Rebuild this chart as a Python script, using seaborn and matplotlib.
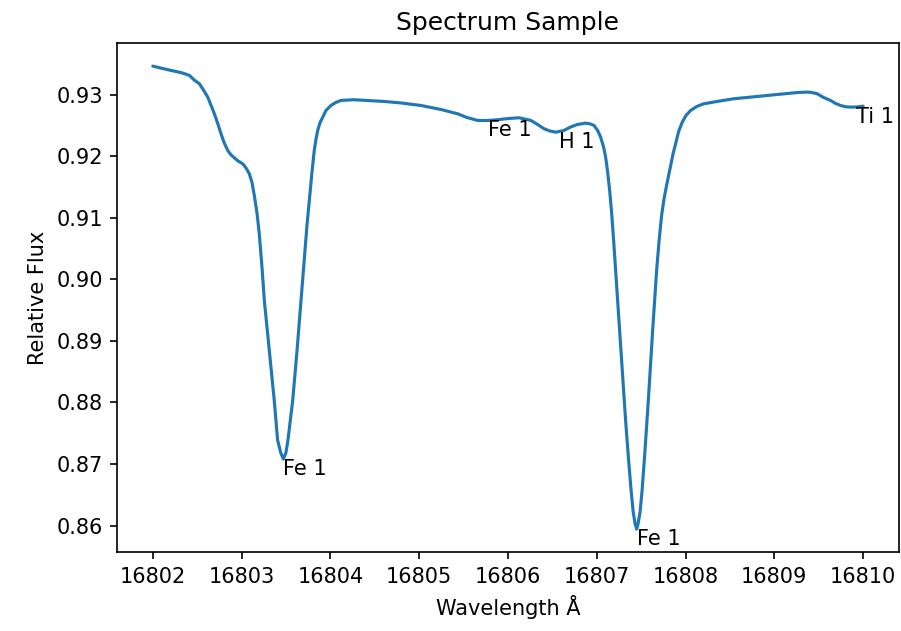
import matplotlib
matplotlib.use("Agg")
import matplotlib.pyplot as plt
import seaborn as sns
import pandas as pd

wavelength = [
    16802.000, 16802.105, 16802.243, 16802.330, 16802.412, 16802.465, 16802.524,
    16802.566, 16802.619, 16802.656, 16802.693, 16802.731, 16802.768, 16802.802,
    16802.844, 16802.881, 16802.918, 16802.960, 16803.013, 16803.050, 16803.087,
    16803.117, 16803.143, 16803.174, 16803.199, 16803.228, 16803.256, 16803.312,
    16803.368, 16803.405, 16803.441, 16803.470, 16803.499, 16803.522, 16803.575,
    16803.624, 16803.669, 16803.691, 16803.714, 16803.736, 16803.762, 16803.792,
    16803.818, 16803.837, 16803.857, 16803.882, 16803.913, 16803.950, 16804.006,
    16804.062, 16804.119, 16804.268, 16804.606, 16804.795, 16805.019, 16805.244,
    16805.432, 16805.537, 16805.657, 16805.773, 16805.882, 16806.009, 16806.125,
    16806.257, 16806.324, 16806.406, 16806.470, 16806.538, 16806.631, 16806.706,
    16806.782, 16806.875, 16806.926, 16806.969, 16807.010, 16807.044, 16807.078,
    16807.100, 16807.123, 16807.145, 16807.168, 16807.190, 16807.235, 16807.280,
    16807.325, 16807.359, 16807.387, 16807.410, 16807.432, 16807.449, 16807.465,
    16807.488, 16807.510, 16807.539, 16807.562, 16807.584, 16807.606, 16807.629,
    16807.651, 16807.674, 16807.702, 16807.730, 16807.758, 16807.786, 16807.809,
    16807.832, 16807.860, 16807.888, 16807.922, 16807.963, 16808.005, 16808.057,
    16808.127, 16808.206, 16808.392, 16808.544, 16808.920, 16809.182, 16809.272,
    16809.370, 16809.418, 16809.482, 16809.554, 16809.632, 16809.689, 16809.745,
    16809.802, 16809.857, 16809.926, 16810.000,
]
flux = [
    0.93463, 0.93426, 0.93382, 0.93353, 0.93312, 0.93239, 0.93177,
    0.93085, 0.92959, 0.92824, 0.92689, 0.92532, 0.92364, 0.92223,
    0.92093, 0.92020, 0.91974, 0.91922, 0.91876, 0.91808, 0.91714,
    0.91572, 0.91361, 0.91068, 0.90738, 0.90223, 0.89654, 0.88841,
    0.88028, 0.87390, 0.87182, 0.87080, 0.87182, 0.87390, 0.88028,
    0.88841, 0.89654, 0.90060, 0.90467, 0.90873, 0.91280, 0.91735,
    0.92093, 0.92272, 0.92418, 0.92540, 0.92634, 0.92743, 0.92824,
    0.92873, 0.92906, 0.92917, 0.92889, 0.92865, 0.92824, 0.92759,
    0.92689, 0.92629, 0.92581, 0.92580, 0.92592, 0.92613, 0.92624,
    0.92581, 0.92524, 0.92446, 0.92410, 0.92390, 0.92418, 0.92475,
    0.92515, 0.92537, 0.92524, 0.92499, 0.92418, 0.92309, 0.92141,
    0.91984, 0.91735, 0.91442, 0.91068, 0.90629, 0.89654, 0.88678,
    0.87702, 0.87052, 0.86564, 0.86224, 0.86028, 0.85942, 0.86028,
    0.86224, 0.86564, 0.87133, 0.87621, 0.88109, 0.88629, 0.89166,
    0.89654, 0.90142, 0.90629, 0.91036, 0.91312, 0.91524, 0.91686,
    0.91849, 0.92044, 0.92202, 0.92402, 0.92553, 0.92662, 0.92743,
    0.92808, 0.92852, 0.92898, 0.92933, 0.92987, 0.93024, 0.93036,
    0.93041, 0.93036, 0.93015, 0.92954, 0.92906, 0.92857, 0.92824,
    0.92803, 0.92797, 0.92800, 0.92813,
]

label_names = ["Fe 1", "Fe 1", "H 1", "Fe 1", "Ti 1"]
label_wl = [16803.47, 16805.77, 16806.57, 16807.45, 16809.92]
label_flux = [0.8708, 0.9259, 0.9240, 0.8594, 0.9280]

df = pd.DataFrame({"Wavelength": wavelength, "Flux": flux})

fig = plt.figure(figsize=(901 / 150, 631 / 150), dpi=150)
ax = fig.add_axes([0.1302, 0.1247, 0.8672, 0.8072])

sns.lineplot(data=df, x="Wavelength", y="Flux", ax=ax, color="#1f77b4",
             linewidth=1.5, solid_joinstyle="round", solid_capstyle="round")

for name, w, f in zip(label_names, label_wl, label_flux):
    ax.text(w, f, name, ha="left", va="top", fontsize=10)

ax.ticklabel_format(useOffset=False, axis="x")
ax.set_title("Spectrum Sample", fontsize=12)
ax.set_xlabel("Wavelength Å", fontsize=10)
ax.set_ylabel("Relative Flux", fontsize=10)

fig.savefig("out.png", dpi=150)
